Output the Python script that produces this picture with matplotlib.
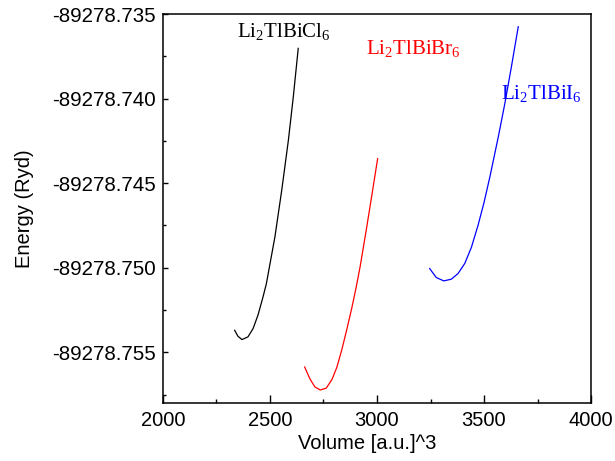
import matplotlib
matplotlib.use("Agg")
import matplotlib.pyplot as plt
from matplotlib.ticker import MultipleLocator, FuncFormatter

plt.rcParams['mathtext.fontset'] = 'custom'
plt.rcParams['mathtext.rm'] = 'Liberation Serif'
plt.rcParams['mathtext.it'] = 'Liberation Serif'
plt.rcParams['mathtext.bf'] = 'Liberation Serif'

# Data (volume in a.u.^3, energy in Ryd)
cl_volume = [2335, 2350, 2369, 2397, 2421, 2444, 2467, 2483, 2523, 2555, 2586, 2609, 2632]
cl_energy = [-89278.75370, -89278.75405, -89278.75425, -89278.75409, -89278.75360,
             -89278.75280, -89278.75175, -89278.75095, -89278.74818, -89278.74541,
             -89278.74246, -89278.73989, -89278.73703]

br_volume = [2662, 2686, 2710, 2735, 2763, 2790, 2812, 2835, 2858, 2882, 2902, 2921, 2952, 2978, 3003]
br_energy = [-89278.75587, -89278.75656, -89278.75705, -89278.75723, -89278.75712,
             -89278.75660, -89278.75590, -89278.75488, -89278.75370, -89278.75240,
             -89278.75120, -89278.74995, -89278.74760, -89278.74555, -89278.74355]

i_volume = [3246, 3277, 3312, 3347, 3379, 3410, 3441, 3472, 3500, 3528, 3567, 3598, 3629, 3660]
i_energy = [-89278.75005, -89278.75058, -89278.75078, -89278.75068, -89278.75034,
            -89278.74975, -89278.74880, -89278.74750, -89278.74615, -89278.74460,
            -89278.74225, -89278.74025, -89278.73805, -89278.73575]

labels = ["Li$_2$TlBiCl$_6$", "Li$_2$TlBiBr$_6$", "Li$_2$TlBiI$_6$"]
colors = ["black", "red", "blue"]
label_pos = [(2346, -89278.73636), (2949, -89278.73737), (3579, -89278.74003)]

xticks = [2000, 2500, 3000, 3500, 4000]

fig = plt.figure(figsize=(6.15, 4.61), dpi=100)
ax = fig.add_axes([0.265, 0.1258, 0.696, 0.8438])

for v, e, c in zip([cl_volume, br_volume, i_volume], [cl_energy, br_energy, i_energy], colors):
    ax.plot(v, e, color=c, lw=0.9, solid_joinstyle='round')

for (x, y), t, c in zip(label_pos, labels, colors):
    ax.text(x, y, t, color=c, fontsize=15, family='Liberation Serif', ha='left', va='baseline')

ax.set_xlim(2000, 4000)
ax.set_ylim(-89278.7580, -89278.735)
ax.set_xticks(xticks)
ax.xaxis.set_minor_locator(MultipleLocator(250))
ax.yaxis.set_major_locator(MultipleLocator(0.005))
ax.yaxis.set_minor_locator(MultipleLocator(0.0025))
ax.yaxis.set_major_formatter(FuncFormatter(lambda v, p: f"{v:.3f}"))

ax.tick_params(which='both', direction='in', top=False, right=False)
ax.tick_params(axis='x', which='major', length=5.5, width=1.0, pad=6, labelsize=14.5)
ax.tick_params(axis='x', which='minor', length=3.2, width=1.0)
ax.tick_params(axis='y', which='major', length=3.5, width=1.0, pad=5, labelsize=14.8)
ax.tick_params(axis='y', which='minor', length=2.2, width=1.0)
for lab in ax.get_xticklabels() + ax.get_yticklabels():
    lab.set_family('Liberation Sans')
for s in ax.spines.values():
    s.set_linewidth(1.1)

ax.set_xlabel("Volume [a.u.]^3", fontsize=14.5, family='Liberation Sans', labelpad=2.5)
ax.xaxis.label.set_x(0.477)
ax.set_ylabel("Energy (Ryd)", fontsize=14.5, family='Liberation Sans', labelpad=13)

fig.savefig("out.png", dpi=100)
